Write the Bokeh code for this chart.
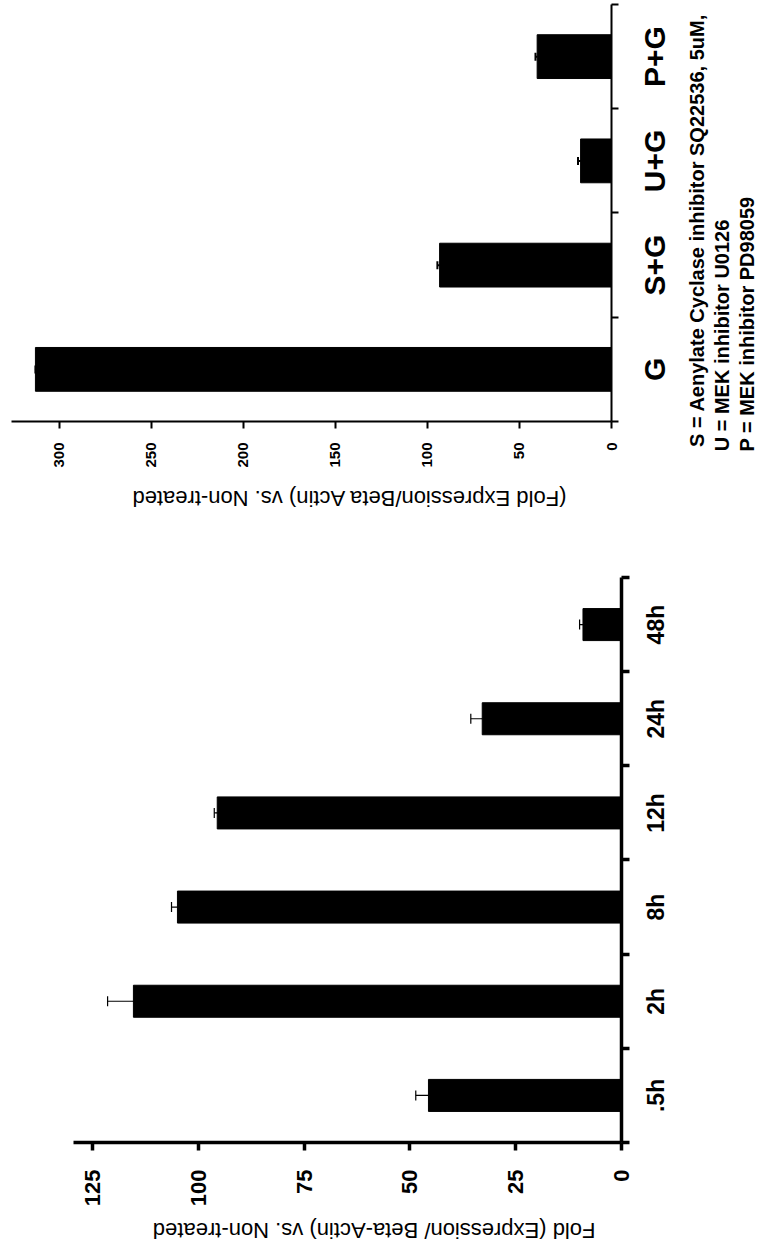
from bokeh.plotting import figure
from bokeh.models import (Range1d, FixedTicker, Whisker, ColumnDataSource,
                          Title, TeeHead, LinearAxis)
from bokeh.embed import file_html
from bokeh.resources import INLINE

# ---------------- data ----------------
# Time course panel
time_categories = [".5h", "2h", "8h", "12h", "24h", "48h"]
time_values = [45.6, 115.3, 104.9, 95.5, 32.9, 9.1]
time_errors = [3.0, 6.1, 1.4, 0.7, 2.7, 0.8]
time_ticks = [0, 25, 50, 75, 100, 125]
time_title = "Fold (Expression/ Beta-Actin) vs. Non-treated"

# Inhibitor panel
inh_categories = ["G", "S+G", "U+G", "P+G"]
inh_values = [313.0, 93.4, 16.8, 40.4]
inh_errors = [0.0, 1.2, 1.4, 0.9]
inh_ticks = [0, 50, 100, 150, 200, 250, 300]
inh_title = "(Fold Expression/Beta Actin)  vs. Non-treated"
inh_notes = ["S = Aenylate Cyclase inhibitor SQ22536, 5uM,",
             "U = MEK inhibitor U0126",
             "P = MEK inhibitor PD98059"]

FONT = "Liberation Sans"


def panel(cats, vals, errs, ticks, y_max, box, borders, bar_w, axis_w,
          tick_font, cat_font, cat_standoff, tick_standoff, tick_len,
          err_w, cap, bounds=None):
    n = len(cats)
    centers = [i + 0.5 for i in range(n)]
    edges = [float(i) for i in range(n + 1)]
    src = ColumnDataSource(dict(
        x=centers, val=vals,
        upper=[v + e for v, e in zip(vals, errs)],
    ))
    left, right, top, bottom = borders
    # the panel is turned a quarter turn on the page, and the page measures
    # the turned box, so the box is given with its sides swapped
    box_w, box_h = box
    p = figure(width=box_h, height=box_w,
               x_range=Range1d(0, n), y_range=Range1d(0, y_max),
               output_backend="svg", toolbar_location=None,
               min_border_left=left, min_border_right=right,
               min_border_top=top, min_border_bottom=bottom)
    p.grid.visible = False
    p.outline_line_color = None

    p.vbar(x="x", bottom=0, top="val", width=bar_w, source=src,
           fill_color="black", line_color="black")
    p.add_layout(Whisker(base="x", lower="val", upper="upper",
                         dimension="height", source=src,
                         line_color="black", line_width=err_w,
                         upper_head=TeeHead(size=cap, line_color="black",
                                            line_width=err_w),
                         lower_head=TeeHead(size=1, line_color="black",
                                            line_width=1)))

    ya = p.yaxis[0]
    ya.ticker = FixedTicker(ticks=ticks, minor_ticks=[])
    if bounds is not None:
        ya.bounds = bounds
    ya.axis_line_width = axis_w
    ya.major_tick_line_width = axis_w
    ya.major_tick_out = tick_len
    ya.major_tick_in = 0
    ya.minor_tick_out = 0
    ya.major_label_standoff = tick_standoff
    ya.major_label_text_font = FONT
    ya.major_label_text_font_style = "bold"
    ya.major_label_text_font_size = tick_font
    ya.major_label_text_color = "black"

    xa = p.xaxis[0]
    xa.ticker = FixedTicker(ticks=centers, minor_ticks=edges)
    xa.major_label_overrides = {c: lab for c, lab in zip(centers, cats)}
    xa.axis_line_width = axis_w
    xa.major_tick_out = 0
    xa.major_tick_in = 0
    xa.minor_tick_out = tick_len
    xa.minor_tick_in = 0
    xa.minor_tick_line_width = axis_w
    xa.major_label_standoff = cat_standoff
    xa.major_label_text_font = FONT
    xa.major_label_text_font_style = "bold"
    xa.major_label_text_font_size = cat_font
    xa.major_label_text_color = "black"
    return p


time_fig = panel(time_categories, time_values, time_errors, time_ticks,
                 144.1, (708, 764), (106, 33, 11, 143), 0.34, 3.5, "22px",
                 "23px", 13, 19, 8, 1.2, 10, bounds=(0, 129.5))
time_fig.add_layout(Title(text=time_title, align="left", offset=26,
                          standoff=16, text_font=FONT,
                          text_font_style="normal", text_font_size="22px",
                          text_color="black"), "left")

inh_fig = panel(inh_categories, inh_values, inh_errors, inh_ticks,
                326.0, (545, 764), (123, 5, 11, 153), 0.42, 2, "15px",
                "30px", 19, 14, 7, 2, 8)
inh_fig.add_layout(Title(text=inh_title, align="left", offset=45,
                         standoff=31, text_font=FONT,
                         text_font_style="normal", text_font_size="22px",
                         text_color="black"), "left")

# footnote lines, drawn as single-label axes under the category axis;
# each label is centred on its tick, so the tick sits half a line further on
note_ticks = [1.832, 0.825, 0.935]
for i, (line, t) in enumerate(zip(inh_notes, note_ticks)):
    ax = LinearAxis(ticker=FixedTicker(ticks=[t], minor_ticks=[]),
                    major_label_overrides={t: line},
                    axis_line_color=None, major_tick_line_color=None,
                    minor_tick_line_color=None, major_tick_out=0,
                    major_tick_in=0, minor_tick_out=0, minor_tick_in=0,
                    major_label_standoff=12 if i == 0 else 0,
                    major_label_text_font=FONT,
                    major_label_text_font_style="bold",
                    major_label_text_font_size="20px",
                    major_label_text_color="black")
    inh_fig.add_layout(ax, "below")

# The figure is a scanned page turned a quarter turn: each panel is drawn
# upright and then turned.
time_fig.styles = {"position": "absolute", "left": "0px", "top": "0px",
                   "transform": "translate(0px, 1253px) rotate(-90deg)",
                   "transform-origin": "0 0"}
inh_fig.styles = {"position": "absolute", "left": "0px", "top": "0px",
                  "transform": "translate(0px, 545px) rotate(-90deg)",
                  "transform-origin": "0 0"}

open("out.html", "w").write(file_html([time_fig, inh_fig], INLINE))
